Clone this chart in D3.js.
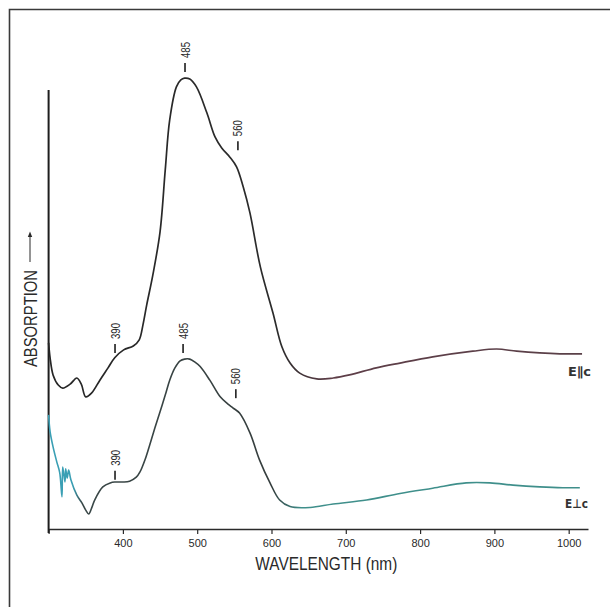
<!DOCTYPE html>
<html><head><meta charset="utf-8">
<script src="https://cdn.jsdelivr.net/npm/d3@7"></script>
<style>html,body{margin:0;padding:0;background:#fff}</style>
</head><body>
<svg id="chart" width="610" height="607"></svg>
<script>
// ---- data (wavelength nm, relative absorption) ----
const parWavelength = [300,302,306,313,319,329,338,344,350,358,369,380,389,401,414,422,427,432,440,450,457,463,472,478,483,490,499,513,524,533,544,553,562,571,585,602,614,625,638,661,683,705,741,773,817,871,903,930,961,988,1018];
const parAbsorption = [0.424,0.390,0.351,0.328,0.321,0.330,0.344,0.330,0.301,0.310,0.339,0.367,0.390,0.408,0.417,0.431,0.465,0.510,0.576,0.677,0.818,0.932,1.007,1.023,1.027,1.025,1.007,0.948,0.893,0.868,0.847,0.825,0.779,0.720,0.597,0.492,0.415,0.378,0.355,0.342,0.344,0.351,0.367,0.378,0.392,0.405,0.410,0.405,0.401,0.399,0.399];

const perpWavelength = [300,302,306,311,315,318,319,322,323,325,327,330,338,345,350,354,358,362,373,383,389,400,409,418,423,430,436,443,450,457,463,470,477,483,490,497,504,517,531,541,548,557,571,584,598,611,625,652,683,728,773,817,862,894,925,961,992,1015];
const perpAbsorption = [0.260,0.222,0.187,0.153,0.128,0.073,0.141,0.107,0.137,0.116,0.134,0.112,0.077,0.059,0.043,0.034,0.048,0.066,0.096,0.105,0.107,0.107,0.109,0.118,0.130,0.159,0.191,0.230,0.267,0.305,0.339,0.367,0.383,0.387,0.387,0.380,0.370,0.339,0.301,0.285,0.276,0.264,0.219,0.157,0.105,0.066,0.051,0.049,0.057,0.066,0.081,0.093,0.105,0.105,0.100,0.096,0.094,0.094];

const xTickValues = [300,400,500,600,700,800,900,1000];
const xTickLabels = ["","400","500","600","700","800","900","1000"];

// peak markers: wavelength anchor, absorption level of the marker's lower end, text
const peakMarkers = [
  {wl:483.6, level:1.041, text:"485"},
  {wl:554.8, level:0.863, text:"560"},
  {wl:389.4, level:0.401, text:"390"},
  {wl:481.0, level:0.401, text:"485"},
  {wl:552.0, level:0.298, text:"560"},
  {wl:389.4, level:0.112, text:"390"}
];
const seriesNames = [
  {wl:999, level:0.349, text:"E\u2225c"},
  {wl:995, level:0.048, text:"E\u22A5c"}
];
const xTitle = "WAVELENGTH (nm)";
const yTitle = "ABSORPTION";

// ---- drawing ----
const svg = d3.select("#chart");
const x = d3.scaleLinear().domain([300, 1026]).range([48.6, 588]);
const y = d3.scaleLinear().domain([0, 1]).range([529, 90]);

// frame
svg.append("path").attr("d","M9.5,607 L9.5,9.5 L610,9.5")
  .attr("fill","none").attr("stroke","#3a3a3a").attr("stroke-width",1.6);

// gradients for the scanned tint of the traces
const defs = svg.append("defs");
function grad(id, stops){
  const g = defs.append("linearGradient").attr("id",id)
    .attr("gradientUnits","userSpaceOnUse")
    .attr("x1",x(300)).attr("x2",x(1026)).attr("y1",0).attr("y2",0);
  stops.forEach(s=>g.append("stop")
    .attr("offset",(x(s[0])-x(300))/(x(1026)-x(300)))
    .attr("stop-color",s[1]));
}
grad("gPar",[[300,"#262626"],[610,"#2c2c2c"],[680,"#5e3e48"],[1026,"#5a4048"]]);
grad("gPerp",[[300,"#3a9fb4"],[333,"#3a9fb4"],[345,"#3a4848"],[600,"#363e3e"],[640,"#3f8f8b"],[1026,"#3f8f8b"]]);

// x axis
const xAxis = d3.axisBottom(x).tickValues(xTickValues)
  .tickFormat((d,i)=>xTickLabels[i]).tickSize(5).tickPadding(5).tickSizeOuter(0);
const gx = svg.append("g").attr("transform",`translate(0,${y(0)})`).call(xAxis);
gx.select(".domain").attr("stroke","#2a2a2a").attr("stroke-width",1.5);
gx.selectAll(".tick line").attr("stroke","#2a2a2a").attr("stroke-width",1.2);
gx.selectAll(".tick text").attr("fill","#2a2a2a")
  .style("font-family","'Liberation Sans', Arial, sans-serif").style("font-size","11px");

// y axis (plain line)
svg.append("line").attr("x1",x(300)).attr("x2",x(300))
  .attr("y1",y(1)).attr("y2",y(0)+4)
  .attr("stroke","#1e1e1e").attr("stroke-width",2);

// curves
const line = d3.line().x(d=>x(d[0])).y(d=>y(d[1])).curve(d3.curveCatmullRom.alpha(0.5));
svg.append("path").datum(parWavelength.map((w,i)=>[w,parAbsorption[i]]))
  .attr("d",line).attr("fill","none").attr("stroke","url(#gPar)").attr("stroke-width",1.7);
svg.append("path").datum(perpWavelength.map((w,i)=>[w,perpAbsorption[i]]))
  .attr("d",line).attr("fill","none").attr("stroke","url(#gPerp)").attr("stroke-width",1.6);

// peak markers
peakMarkers.forEach(p=>{
  const px = x(p.wl), py = y(p.level);
  svg.append("line").attr("x1",px).attr("x2",px).attr("y1",py).attr("y2",py-9)
    .attr("stroke","#2a2a2a").attr("stroke-width",1.7);
  svg.append("text").attr("transform",`translate(${px},${py-14}) rotate(-90)`)
    .attr("dy","0.38em").attr("text-anchor","start")
    .attr("textLength",16).attr("lengthAdjust","spacingAndGlyphs")
    .style("font-family","'Liberation Sans', Arial, sans-serif").style("font-size","12px")
    .attr("fill","#2a2a2a").text(p.text);
});

// series names
seriesNames.forEach(s=>{
  svg.append("text").attr("x",x(s.wl)).attr("y",y(s.level))
    .attr("textLength",23).attr("lengthAdjust","spacingAndGlyphs")
    .style("font-family","'DejaVu Sans', sans-serif").style("font-size","12.5px")
    .style("font-weight","bold").attr("fill","#333").text(s.text);
});

// axis titles
svg.append("text").attr("x",(x(300)+x(1026))/2 + 8).attr("y",570)
  .attr("text-anchor","middle").attr("textLength",142).attr("lengthAdjust","spacingAndGlyphs")
  .style("font-family","'Liberation Sans', Arial, sans-serif").style("font-size","18px")
  .attr("fill","#2a2a2a").text(xTitle);

svg.append("text").attr("transform","translate(36.5,367) rotate(-90)")
  .attr("text-anchor","start").attr("textLength",97).attr("lengthAdjust","spacingAndGlyphs")
  .style("font-family","'Liberation Sans', Arial, sans-serif").style("font-size","18px")
  .attr("fill","#2a2a2a").text(yTitle);
// arrow after the title
svg.append("line").attr("x1",30).attr("x2",30).attr("y1",262).attr("y2",236)
  .attr("stroke","#2a2a2a").attr("stroke-width",1);
svg.append("path").attr("d","M27.8,237 L30,231.5 L32.2,237 Z").attr("fill","#2a2a2a");
</script>
</body></html>
